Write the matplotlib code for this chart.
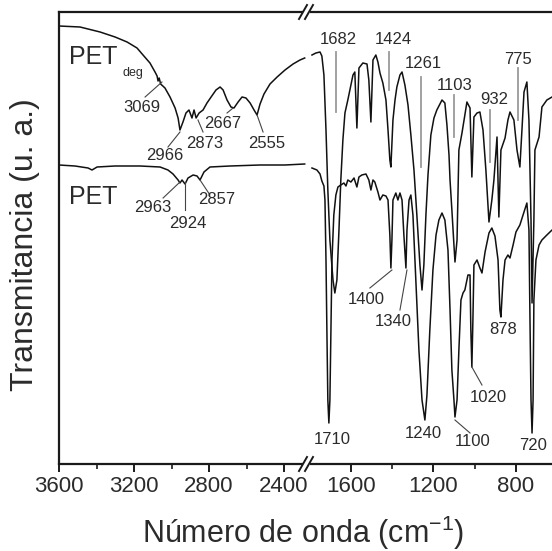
"""FTIR spectra of PET and degraded PET with a broken wavenumber axis."""

import matplotlib

matplotlib.use("Agg")
import matplotlib.pyplot as plt
import numpy as np
from matplotlib.lines import Line2D
from matplotlib.patches import Rectangle

plt.rcParams["font.family"] = ["Liberation Sans", "DejaVu Sans"]
plt.rcParams["mathtext.fontset"] = "custom"
plt.rcParams["mathtext.rm"] = "Liberation Sans"

# --- data (transmittance in arbitrary units) ---
deg_wn_hi = [3600, 3488, 3381, 3301, 3237, 3184, 3152, 3115, 3088, 3077, 3072,
             3066, 3058, 3035, 3008, 2981, 2965, 2955, 2939, 2923, 2907, 2891,
             2880, 2869, 2853, 2832, 2811, 2789, 2763, 2741, 2725, 2704, 2683,
             2667, 2645, 2624, 2603, 2581, 2560, 2544, 2528, 2507, 2475, 2437,
             2395, 2352, 2315, 2290]
deg_t_hi = [438, 437, 432, 427, 422, 416, 409, 401, 392, 388, 383,
            386, 380, 376, 367, 356, 346, 334, 342, 351, 354, 346,
            354, 346, 351, 354, 361, 367, 374, 377, 374, 364, 357,
            356, 362, 367, 366, 361, 354, 349, 360, 370, 380, 387,
            394, 400, 404, 406]

deg_wn_lo = [1789, 1770, 1750, 1741, 1731, 1721, 1712, 1702, 1687, 1678, 1668,
             1658, 1649, 1639, 1629, 1615, 1600, 1590, 1581, 1571, 1561, 1542,
             1522, 1513, 1503, 1493, 1479, 1469, 1459, 1445, 1430, 1420, 1411,
             1406, 1396, 1386, 1377, 1362, 1352, 1338, 1323, 1309, 1294, 1280,
             1265, 1255, 1246, 1236, 1226, 1212, 1197, 1183, 1168, 1158, 1144,
             1134, 1124, 1119, 1110, 1100, 1095, 1085, 1076, 1061, 1047, 1037,
             1022, 1013, 1003, 988, 974, 959, 945, 930, 916, 906, 891, 882,
             872, 852, 838, 828, 809, 794, 780, 770, 760, 746, 736, 726, 721,
             712, 707, 687, 673, 649, 624, 595]
deg_t_lo = [409, 411, 412, 408, 389, 334, 274, 224, 184, 171, 184,
            234, 284, 324, 351, 364, 379, 389, 392, 336, 396, 401,
            400, 384, 342, 404, 409, 402, 391, 381, 364, 334, 304,
            297, 344, 364, 377, 389, 392, 379, 359, 329, 294, 249,
            199, 174, 199, 249, 289, 329, 346, 354, 360, 364, 361,
            339, 309, 284, 254, 219, 202, 224, 314, 331, 349, 362,
            356, 287, 347, 351, 352, 334, 294, 242, 264, 284, 327, 247,
            314, 326, 344, 352, 344, 314, 297, 334, 372, 382, 344, 244, 161,
            244, 314, 327, 357, 364, 367, 368]

pet_wn_hi = [3600, 3515, 3445, 3424, 3397, 3301, 3168, 3061, 3019, 2992, 2965,
             2955, 2944, 2928, 2912, 2885, 2864, 2848, 2827, 2795, 2688, 2528,
             2395, 2290]
pet_t_hi = [299, 298, 296, 294, 297, 298, 298, 297, 294, 290, 284,
            281, 284, 280, 286, 289, 288, 284, 292, 297, 298, 299,
            299, 300]

pet_wn_lo = [1789, 1765, 1750, 1741, 1731, 1726, 1721, 1716, 1712, 1707, 1702,
             1697, 1692, 1683, 1673, 1663, 1649, 1634, 1624, 1615, 1600, 1585,
             1571, 1561, 1547, 1527, 1513, 1503, 1493, 1484, 1469, 1459, 1445,
             1430, 1420, 1411, 1406, 1401, 1396, 1382, 1372, 1362, 1352, 1343,
             1333, 1328, 1318, 1309, 1299, 1285, 1270, 1255, 1241, 1231, 1217,
             1202, 1187, 1173, 1158, 1144, 1129, 1119, 1110, 1100, 1095, 1085,
             1076, 1066, 1056, 1047, 1032, 1022, 1018, 1013, 1008, 1003, 988,
             974, 964, 949, 930, 916, 901, 886, 877, 872, 862, 852, 838, 828,
             813, 799, 780, 760, 746, 736, 731, 726, 721, 716, 712, 702, 687,
             673, 649, 624, 595]
pet_t_lo = [296, 294, 290, 283, 278, 264, 204, 124, 64, 41, 64,
            134, 204, 249, 269, 277, 279, 281, 278, 284, 282, 286,
            277, 287, 289, 290, 284, 274, 284, 282, 272, 264, 269,
            268, 264, 229, 196, 224, 264, 271, 264, 271, 264, 229,
            196, 234, 264, 269, 249, 184, 114, 64, 44, 69, 134,
            194, 229, 244, 251, 244, 214, 154, 94, 64, 47, 64,
            114, 164, 171, 174, 189, 189, 134, 97, 144, 199, 204,
            196, 191, 212, 231, 236, 228, 204, 154, 147, 184, 204, 209, 206,
            219, 232, 239, 252, 261, 234, 144, 64, 31, 64, 164, 204, 219,
            224, 229, 234, 236]

# peak labels: (text, wavenumber, transmittance)
hi_labels = [("3069", 3157, 357), ("2966", 3035, 308), ("2873", 2821, 321),
             ("2667", 2725, 340), ("2555", 2491, 321), ("2963", 3099, 257),
             ("2924", 2912, 240), ("2857", 2757, 264)]
hi_leaders = [((3141, 367), (3051, 382)), ((3019, 317), (2955, 332)),
              ((2832, 332), (2859, 344)), ((2704, 351), (2672, 356)),
              ((2512, 332), (2544, 349)), ((3045, 266), (2955, 282)),
              ((2928, 282), (2928, 254)), ((2795, 269), (2848, 284))]

lo_labels = [("1682", 1663, 425), ("1424", 1396, 425), ("1261", 1250, 400),
             ("1103", 1095, 378), ("932", 906, 364), ("775", 789, 405),
             ("1400", 1527, 164), ("1340", 1396, 143), ("1710", 1692, 24),
             ("1240", 1250, 31), ("1100", 1008, 23), ("1020", 935, 67),
             ("878", 862, 134), ("720", 717, 18)]
# grey marker bars: (wavenumber, bottom, top)
lo_markers = [(1673, 352, 412), (1416, 374, 412), (1262, 297, 387),
              (1100, 327, 369), (925, 302, 354), (789, 344, 396)]
lo_leaders = [((1508, 176), (1401, 194)), ((1362, 154), (1328, 194)),
              ((1095, 44), (1022, 31)), ((1013, 97), (964, 79))]

# --- figure ---
W, H = 552, 551
fig = plt.figure(figsize=(W / 100, H / 100), dpi=100)
x_left, x_brk, x_right = 59, 306, 558
y_bot, y_top = 464, 12
ax1 = fig.add_axes([x_left / W, 1 - y_bot / H, (x_brk - x_left) / W, (y_bot - y_top) / H])
ax2 = fig.add_axes([x_brk / W, 1 - y_bot / H, (x_right - x_brk) / W, (y_bot - y_top) / H])

txt_col = "#2b2b2b"
for ax in (ax1, ax2):
    ax.set_ylim(0, 452)
    ax.set_yticks([])
    for sp in ax.spines.values():
        sp.set_linewidth(1.6)
        sp.set_color("#1a1a1a")
    ax.tick_params(axis="x", which="major", direction="out", length=6, width=1.4,
                   labelsize=16, labelcolor=txt_col, pad=3, color="#1a1a1a")
    ax.tick_params(axis="x", which="minor", direction="out", length=3.5, width=1.2,
                   color="#1a1a1a")

ax1.spines["right"].set_visible(False)
ax2.spines["left"].set_visible(False)
ax2.spines["right"].set_visible(False)

ax1.set_xlim(3600, 2283)
ax1.set_xticks([3600, 3200, 2800, 2400])
ax1.set_xticks([3400, 3000, 2600], minor=True)
ax2.set_xlim(1818, 595)
ax2.set_xticks([1600, 1200, 800])
ax2.set_xticks([1400, 1000], minor=True)

line_kw = dict(color="#111111", lw=1.1)
ax1.plot(deg_wn_hi, deg_t_hi, **line_kw)
ax1.plot(pet_wn_hi, pet_t_hi, **line_kw)
ax2.plot(deg_wn_lo, deg_t_lo, **line_kw)
ax2.plot(pet_wn_lo, pet_t_lo, **line_kw)

lab_kw = dict(fontsize=12, color=txt_col, ha="center", va="center")
for text, wn, t in hi_labels:
    ax1.text(wn, t, text, **lab_kw)
for (a, b) in hi_leaders:
    ax1.plot([a[0], b[0]], [a[1], b[1]], color="#444444", lw=0.8)
for text, wn, t in lo_labels:
    ax2.text(wn, t, text, **lab_kw)
for (a, b) in lo_leaders:
    ax2.plot([a[0], b[0]], [a[1], b[1]], color="#444444", lw=0.8)
for wn, t0, t1 in lo_markers:
    ax2.plot([wn, wn], [t0, t1], color="#9a9a9a", lw=1.3)

# sample names
ax1.text(3419, 407, "PET", fontsize=18, color=txt_col, ha="center", va="center")
ax1.text(3205, 391, "deg", fontsize=9, color=txt_col, ha="center", va="center")
ax1.text(3419, 267, "PET", fontsize=18, color=txt_col, ha="center", va="center")

fig.text(25 / W, 1 - 245 / H, "Transmitancia (u. a.)", fontsize=23, color=txt_col,
         rotation=90, ha="center", va="center")
fig.text(303 / W, 1 - 543 / H, "Número de onda (cm$^{\\mathregular{-1}}$)", fontsize=22,
         color=txt_col, ha="center", va="baseline")

# axis break marks
for yb in (y_bot, y_top):
    fig.add_artist(Rectangle(((x_brk - 3) / W, 1 - (yb + 2) / H), 7 / W, 4 / H,
                             transform=fig.transFigure, facecolor="white",
                             edgecolor="none", zorder=5))
    for dx in (-3, 3):
        xs = np.array([x_brk + dx - 4, x_brk + dx + 4]) / W
        ys = 1 - np.array([yb + 7, yb - 7]) / H
        fig.add_artist(Line2D(xs, ys, transform=fig.transFigure, color="#1a1a1a",
                              lw=1.4, zorder=6))

fig.savefig("out.png", dpi=100, facecolor="white")
